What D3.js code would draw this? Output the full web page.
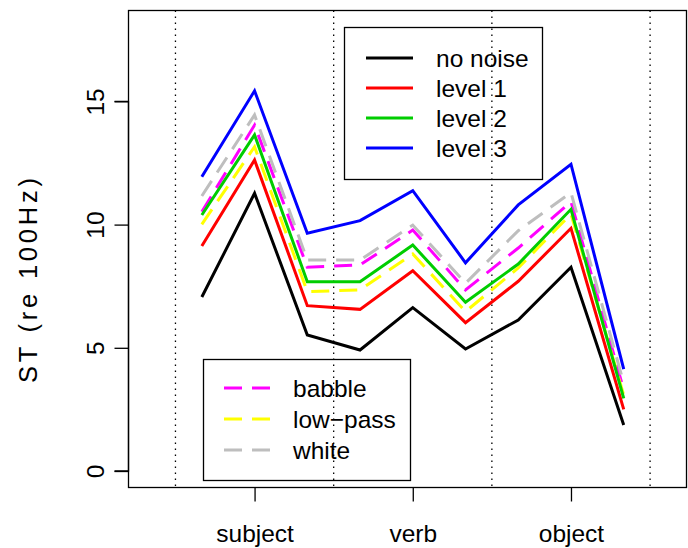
<!DOCTYPE html>
<html>
<head>
<meta charset="utf-8">
<script src="https://cdn.jsdelivr.net/npm/d3@7"></script>
<style>
  body { margin: 0; background: #fff; }
  text { font-family: "Liberation Sans", Arial, sans-serif; fill: #000; }
</style>
</head>
<body>
<div id="chart"></div>
<script>
// positions 1..9, three words with three points each
const positions = [1, 2, 3, 4, 5, 6, 7, 8, 9];
const wordLabels = ["subject", "verb", "object"];
const wordTicks = [2, 5, 8];
const separators = [0.5, 3.5, 6.5, 9.5];
const yTicks = [0, 5, 10, 15];

const noNoise = [7.06, 11.27, 5.52, 4.91, 6.63, 4.95, 6.13, 8.27, 1.87];
const level1  = [9.13, 12.62, 6.71, 6.56, 8.13, 6.02, 7.70, 9.85, 2.50];
const level2  = [10.39, 13.64, 7.68, 7.68, 9.17, 6.85, 8.40, 10.62, 2.95];
const level3  = [11.94, 15.43, 9.65, 10.16, 11.38, 8.45, 10.80, 12.45, 4.13];
const babble  = [10.52, 14.04, 8.27, 8.36, 9.78, 7.35, 9.05, 10.93, 3.29];
const lowPass = [10.01, 13.16, 7.28, 7.35, 8.81, 6.47, 8.24, 10.43, 3.08];
const white   = [11.16, 14.45, 8.56, 8.56, 9.98, 7.62, 9.75, 11.30, 3.56];

const solidSeries = [
  { name: "no noise", values: noNoise, color: "#000000" },
  { name: "level 1", values: level1, color: "#FF0000" },
  { name: "level 2", values: level2, color: "#00CD00" },
  { name: "level 3", values: level3, color: "#0000FF" }
];
const dashedSeries = [
  { name: "babble", values: babble, color: "#FF00FF" },
  { name: "low\u2212pass", values: lowPass, color: "#FFFF00" },
  { name: "white", values: white, color: "#BEBEBE" }
];

const W = 688, H = 548;
const plot = { left: 128.5, right: 686.5, top: 10.5, bottom: 487.5 };
const dash = "18,10";
const fontSize = 24.5;

const svg = d3.select("#chart").append("svg")
  .attr("width", W).attr("height", H);

const x = d3.scaleLinear().domain([-0.4, 10.2]).range([128, 687]);
const y = d3.scaleLinear().domain([0, 15]).range([471, 101.4]);

// dotted separators
svg.append("g")
  .selectAll("line")
  .data(separators)
  .join("line")
    .attr("x1", d => x(d)).attr("x2", d => x(d))
    .attr("y1", plot.top).attr("y2", plot.bottom)
    .attr("stroke", "#000")
    .attr("stroke-width", 1.3)
    .attr("stroke-dasharray", "1.5,4.5");

const line = d3.line()
  .x((d, i) => x(positions[i]))
  .y(d => y(d));

// dashed noise-type lines underneath, solid levels on top
svg.append("g")
  .selectAll("path")
  .data(dashedSeries.concat(solidSeries))
  .join("path")
    .attr("d", d => line(d.values))
    .attr("fill", "none")
    .attr("stroke", d => d.color)
    .attr("stroke-width", 3)
    .attr("stroke-dasharray", d => dashedSeries.includes(d) ? dash : null);

// box
svg.append("rect")
  .attr("x", plot.left).attr("y", plot.top)
  .attr("width", plot.right - plot.left)
  .attr("height", plot.bottom - plot.top)
  .attr("fill", "none").attr("stroke", "#000").attr("stroke-width", 1.3);

// y axis
const yAxis = svg.append("g")
  .attr("transform", `translate(${plot.left},0)`)
  .call(d3.axisLeft(y).tickValues(yTicks).tickSize(14).tickPadding(6));
yAxis.select(".domain").attr("d", `M-14,${y(0)}H0V${y(15)}H-14`).attr("stroke-width", 1.3);
yAxis.selectAll(".tick line").attr("stroke-width", 1.3);
yAxis.selectAll(".tick text")
  .attr("font-size", fontSize)
  .attr("x", 0).attr("dy", null)
  .attr("text-anchor", "middle")
  .attr("dominant-baseline", "central")
  .attr("transform", "translate(-33,0) rotate(-90)")
  .style("font-family", "'Liberation Sans', Arial, sans-serif");

// x axis
const xAxis = svg.append("g")
  .attr("transform", `translate(0,${plot.bottom})`)
  .call(d3.axisBottom(x).tickValues(wordTicks)
    .tickFormat((d, i) => wordLabels[i]).tickSize(14).tickPadding(0));
xAxis.select(".domain").remove();
xAxis.selectAll(".tick text")
  .attr("font-size", fontSize)
  .attr("y", 46).attr("dy", null)
  .attr("dominant-baseline", "central")
  .style("font-family", "'Liberation Sans', Arial, sans-serif");
xAxis.selectAll(".tick line").attr("stroke-width", 1.3);

// y label (spans roughly 176..385 px in the reference)
svg.append("text")
  .attr("transform", "translate(28,280.5) rotate(-90)")
  .attr("text-anchor", "middle")
  .attr("dominant-baseline", "central")
  .attr("font-size", fontSize + 1)
  .attr("textLength", 205)
  .attr("lengthAdjust", "spacing")
  .text("ST (re 100Hz)");

// legends
function legend(items, box, lineX, textX, rows, dashed) {
  const g = svg.append("g");
  g.append("rect")
    .attr("x", box[0]).attr("y", box[1])
    .attr("width", box[2] - box[0]).attr("height", box[3] - box[1])
    .attr("fill", "none").attr("stroke", "#000").attr("stroke-width", 1.3);
  const row = g.selectAll("g.row").data(items).join("g").attr("class", "row")
    .attr("transform", (d, i) => `translate(0,${rows[i]})`);
  row.append("line")
    .attr("x1", lineX[0]).attr("x2", lineX[1])
    .attr("stroke", d => d.color).attr("stroke-width", 3)
    .attr("stroke-dasharray", dashed ? dash : null);
  row.append("text")
    .attr("x", textX)
    .attr("dominant-baseline", "central")
    .attr("font-size", fontSize)
    .text(d => d.name);
}
legend(solidSeries, [344.5, 27.5, 542.5, 179.5], [366, 413], 436, [58, 88, 118, 148], false);
legend(dashedSeries, [203.5, 359.5, 410.5, 480.5], [224, 272], 293, [388, 419, 450], true);
</script>
</body>
</html>
